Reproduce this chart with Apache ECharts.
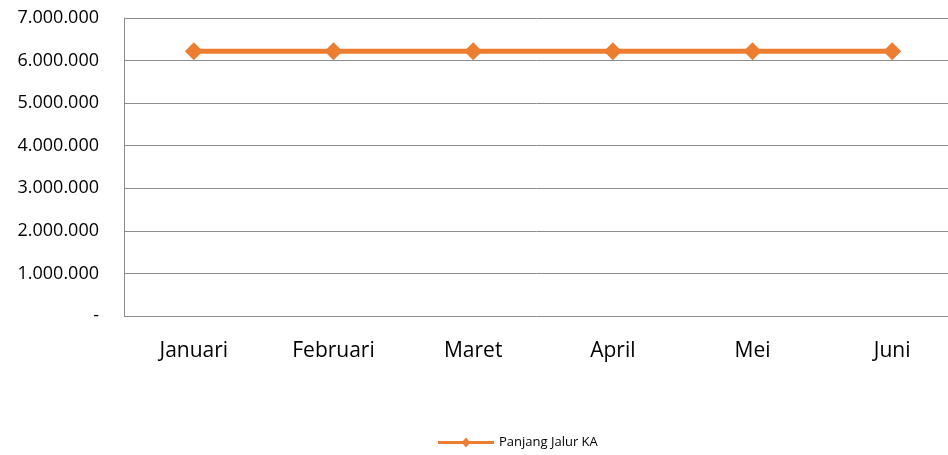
<!DOCTYPE html>
<html>
<head>
<meta charset="utf-8">
<script src="https://cdn.jsdelivr.net/npm/echarts@6/dist/echarts.min.js"></script>
<style>
  html, body { margin: 0; padding: 0; background: #fff; }
  #chart { width: 948px; height: 455px; }
</style>
</head>
<body>
<div id="chart"></div>
<script>
const months = ['Januari', 'Februari', 'Maret', 'April', 'Mei', 'Juni'];
const panjangJalur = [6220000, 6220000, 6220000, 6220000, 6220000, 6220000];
const seriesName = 'Panjang Jalur KA';

function fmt(v) {
  if (v === 0) return '-';
  return String(v).replace(/\B(?=(\d{3})+(?!\d))/g, '.');
}

document.addEventListener('DOMContentLoaded', () => {
  echarts.init(document.querySelector('#chart')).setOption({
    animation: false,
    textStyle: { fontFamily: '"Open Sans", sans-serif' },
    grid: {
      left: 124, width: 838, top: 18, bottom: 139,
      containLabel: false, outerBoundsMode: 'none'
    },
    legend: {
      bottom: 1,
      left: 433,
      itemWidth: 56,
      itemHeight: 10,
      itemGap: 4,
      textStyle: { fontSize: 13, color: '#000', fontFamily: '"Open Sans", sans-serif' },
      data: [{
        name: seriesName,
        icon: 'path://M0,3.5 L25,3.5 L28,0 L31,3.5 L56,3.5 L56,6.5 L31,6.5 L28,10 L25,6.5 L0,6.5 Z'
      }]
    },
    xAxis: {
      type: 'category',
      data: months,
      boundaryGap: true,
      axisLine: { show: false },
      axisTick: { show: false },
      axisLabel: { fontSize: 21, color: '#000', margin: 25 }
    },
    yAxis: {
      type: 'value',
      min: 0,
      max: 7000000,
      interval: 1000000,
      axisLine: { show: true, lineStyle: { color: '#8c8c8c' } },
      axisTick: { show: false },
      splitLine: { lineStyle: { color: '#8c8c8c' } },
      axisLabel: { fontSize: 18, color: '#000', margin: 25, formatter: fmt }
    },
    series: [{
      name: seriesName,
      type: 'line',
      data: panjangJalur,
      symbol: 'diamond',
      symbolSize: 18,
      lineStyle: { width: 5, color: '#ED7D31' },
      itemStyle: { color: '#ED7D31' }
    }]
  });
});
</script>
</body>
</html>
